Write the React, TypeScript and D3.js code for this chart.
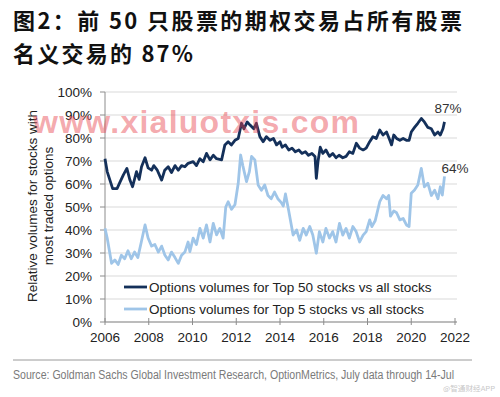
import React from "react";
import * as d3 from "d3";

// time axis (fractional years) and the two series
const top50Years = [
  2006.0, 2006.1, 2006.35, 2006.55, 2006.68, 2006.84, 2007.0, 2007.14, 2007.26, 2007.44,
  2007.56, 2007.67, 2007.83, 2007.97, 2008.13, 2008.23, 2008.39, 2008.59, 2008.73, 2008.89,
  2009.04, 2009.2, 2009.35, 2009.5, 2009.65, 2009.8, 2010.03, 2010.18, 2010.34, 2010.49,
  2010.64, 2010.8, 2010.95, 2011.1, 2011.33, 2011.48, 2011.63, 2011.78, 2011.94, 2012.09,
  2012.24, 2012.35, 2012.5, 2012.63, 2012.8, 2012.92, 2013.08, 2013.23, 2013.38, 2013.54,
  2013.7, 2013.84, 2014.0, 2014.1, 2014.25, 2014.4, 2014.55, 2014.7, 2014.86, 2015.0,
  2015.16, 2015.3, 2015.46, 2015.6, 2015.66, 2015.74, 2015.84, 2015.96, 2016.1, 2016.26,
  2016.41, 2016.56, 2016.7, 2016.87, 2017.02, 2017.17, 2017.33, 2017.49, 2017.64, 2017.8,
  2017.94, 2018.1, 2018.25, 2018.4, 2018.56, 2018.71, 2018.87, 2019.02, 2019.1, 2019.2,
  2019.33, 2019.48, 2019.63, 2019.78, 2019.9, 2020.0, 2020.15, 2020.3, 2020.46, 2020.6,
  2020.76, 2020.92, 2021.07, 2021.22, 2021.33, 2021.45, 2021.52,
];
const top50Values = [
  71, 65.4, 58, 58, 60.7, 64, 66.8, 61.7, 58.8, 65.4,
  62, 67.5, 71.4, 67, 66, 68, 66, 61.7, 66, 67.5,
  65, 68, 66, 68, 67.5, 69, 69.7, 68, 71, 69.7,
  73.3, 70.5, 72.5, 71, 70.5, 77, 78.4, 77, 79, 79.8,
  86.4, 84, 87, 85.6, 84, 86.4, 80.6, 78.4, 80.6, 79,
  79.8, 77, 78.4, 76, 77, 74.8, 75.6, 74, 74.8, 73.3,
  74, 72.5, 73.3, 72, 62.5, 70, 76, 73.3, 74.8, 72,
  73.3, 71.4, 72.5, 71.4, 72, 74, 73.3, 77.7, 75.6, 74.8,
  75.6, 78.4, 80.6, 79.8, 83.5, 81.3, 82.6, 79, 77, 81.3,
  79.8, 79, 79.8, 79, 79, 82.6, 84.6, 86.4, 88.5, 87,
  84.6, 84, 81.3, 82.6, 81.3, 84, 87,
];

const top5Years = [
  2006.0, 2006.1, 2006.3, 2006.45, 2006.6, 2006.75, 2006.9, 2007.05, 2007.2, 2007.35,
  2007.5, 2007.66, 2007.83, 2007.97, 2008.13, 2008.28, 2008.44, 2008.59, 2008.74, 2008.89,
  2009.04, 2009.2, 2009.35, 2009.5, 2009.65, 2009.8, 2009.88, 2010.03, 2010.18, 2010.34,
  2010.49, 2010.64, 2010.8, 2010.95, 2011.1, 2011.25, 2011.4, 2011.52, 2011.63, 2011.78,
  2011.94, 2012.09, 2012.2, 2012.3, 2012.47, 2012.6, 2012.7, 2012.85, 2013.0, 2013.15,
  2013.3, 2013.45, 2013.6, 2013.75, 2013.9, 2014.05, 2014.15, 2014.25, 2014.4, 2014.6,
  2014.76, 2014.9, 2015.06, 2015.2, 2015.36, 2015.5, 2015.66, 2015.8, 2015.96, 2016.1,
  2016.26, 2016.41, 2016.56, 2016.72, 2016.87, 2017.02, 2017.17, 2017.33, 2017.48, 2017.64,
  2017.8, 2017.94, 2018.1, 2018.2, 2018.35, 2018.56, 2018.71, 2018.87, 2018.97, 2019.05,
  2019.2, 2019.33, 2019.48, 2019.63, 2019.78, 2019.9, 2020.0, 2020.15, 2020.3, 2020.46,
  2020.6, 2020.76, 2020.92, 2021.07, 2021.22, 2021.33, 2021.42, 2021.52,
];
const top5Values = [
  40.7, 36.5, 25.5, 27, 25, 29, 27.5, 31, 27.5, 30.4,
  28, 34.8, 42.2, 36.5, 33, 33.7, 30.4, 33, 29, 27,
  30.4, 28, 25.5, 29, 30.4, 34.8, 30.6, 36.5, 33.7, 40.7,
  36.5, 42.2, 34.8, 42.9, 37.9, 40.7, 36.5, 50, 52.3, 49,
  51, 60.3, 72.6, 68, 61, 65.4, 72, 70.5, 59.6, 57.3,
  59.6, 55, 53.6, 56.5, 53.6, 52, 50.4, 55.7, 48.3, 37.8,
  40, 35.5, 40.7, 37.8, 41.5, 37.8, 29.9, 39.3, 34.8, 40.7,
  36.5, 39.3, 34.8, 42.9, 37.8, 40.7, 36.5, 41.5, 39.3, 34.8,
  37.8, 39.3, 44.4, 41.5, 44, 52.3, 55, 53.6, 55, 46,
  48.3, 47.5, 44.4, 45, 42.2, 41.5, 56, 57.4, 59.6, 66.8,
  58.8, 60.3, 55, 57.3, 53.6, 58.8, 55.2, 63.3,
];

const yTicks = [0, 10, 20, 30, 40, 50, 60, 70, 80, 90, 100];
const xTicks = [2006, 2008, 2010, 2012, 2014, 2016, 2018, 2020, 2022];
const seriesNames = [
  "Options volumes for Top 50 stocks vs all stocks",
  "Options volumes for Top 5 stocks vs all stocks",
];
const endLabels = ["87%", "64%"];

const W = 500, H = 397;
const font = "'Liberation Sans', Arial, sans-serif";
const darkBlue = "#14305a";
const lightBlue = "#9fc5e8";

export default function App() {
  const x = d3.scaleLinear().domain([2006, 2022]).range([105, 455]);
  const y = d3.scaleLinear().domain([0, 100]).range([322, 92]);

  const line = d3.line<[number, number]>()
    .x((d) => x(d[0]))
    .y((d) => y(d[1]));

  const top50 = d3.zip(top50Years, top50Values) as [number, number][];
  const top5 = d3.zip(top5Years, top5Values) as [number, number][];
  const last50 = top50[top50.length - 1];
  const last5 = top5[top5.length - 1];

  return (
    <svg width={W} height={H} style={{ position: "absolute", left: 0, top: 0, background: "#fff" }}>
      {/* title */}
      <g fontFamily="'Noto Sans CJK SC', sans-serif" fontWeight={700} fontSize={22} fill="#111">
        <text x={13} y={29} textLength={449} lengthAdjust="spacing">图2：前 50 只股票的期权交易占所有股票</text>
        <text x={13} y={62} textLength={180} lengthAdjust="spacing">名义交易的 87%</text>
      </g>

      {/* grid */}
      {yTicks.map((t) => (
        <line key={"g" + t} x1={x(2006)} x2={457} y1={y(t)} y2={y(t)} stroke="#d9d9d9" strokeWidth={1} />
      ))}

      {/* y axis */}
      <line x1={x(2006)} x2={x(2006)} y1={y(0)} y2={y(100)} stroke="#8c8c8c" />
      {yTicks.map((t) => (
        <g key={"y" + t}>
          <line x1={x(2006) - 5} x2={x(2006)} y1={y(t)} y2={y(t)} stroke="#8c8c8c" />
          <text x={92} y={y(t)} dy="0.35em" textAnchor="end" fontFamily={font} fontSize={13.5} fill="#222">
            {t + "%"}
          </text>
        </g>
      ))}

      {/* x axis */}
      <line x1={x(2006)} x2={457} y1={y(0)} y2={y(0)} stroke="#8c8c8c" />
      {xTicks.map((t) => (
        <g key={"x" + t}>
          <line x1={x(t)} x2={x(t)} y1={y(0) - 4} y2={y(0) + 3} stroke="#8c8c8c" />
          <text x={x(t)} y={342} textAnchor="middle" fontFamily={font} fontSize={13.5} fill="#222">
            {t}
          </text>
        </g>
      ))}

      {/* y axis title */}
      <g fontFamily={font} fontSize={13.5} fill="#222" textAnchor="middle">
        <text transform="translate(37,206) rotate(-90)">Relative volumes for stocks with</text>
        <text transform="translate(53,206) rotate(-90)">most traded options</text>
      </g>

      {/* series */}
      <path d={line(top5) ?? ""} fill="none" stroke={lightBlue} strokeWidth={2.8} strokeLinejoin="round" />
      <path d={line(top50) ?? ""} fill="none" stroke={darkBlue} strokeWidth={2.8} strokeLinejoin="round" />

      {/* end labels */}
      <g fontFamily={font} fontSize={13.5} fill="#333">
        <text x={x(last50[0]) - 10} y={113}>{endLabels[0]}</text>
        <text x={x(last5[0]) - 3} y={173}>{endLabels[1]}</text>
      </g>

      {/* legend */}
      {seriesNames.map((name, i) => (
        <g key={name} transform={`translate(124,${287 + i * 22})`}>
          <line x1={0} x2={23} y1={0} y2={0} stroke={i === 0 ? darkBlue : lightBlue} strokeWidth={2.8} />
          <text x={25} y={0} dy="0.35em" fontFamily={font} fontSize={13.5} fill="#222">{name}</text>
        </g>
      ))}

      {/* watermark */}
      <text x={33} y={133} fontFamily={font} fontWeight={700} fontSize={32} fill="rgb(232,64,74)" fillOpacity={0.45}
        textLength={326} lengthAdjust="spacing">www.xialuotxis.com</text>

      {/* source */}
      <line x1={13} x2={472} y1={360} y2={360} stroke="#9a9a9a" />
      <text x={13} y={379} fontFamily="'Liberation Sans Narrow', 'Liberation Sans', Arial, sans-serif" fontSize={12}
        fill="#7a7a7a" textLength={441} lengthAdjust="spacingAndGlyphs">
        Source: Goldman Sachs Global Investment Research, OptionMetrics, July data through 14-Jul
      </text>
      <text x={443} y={391} fontFamily="'Noto Sans CJK SC', sans-serif" fontSize={6.5} fill="#c8c8c8"
        textLength={52} lengthAdjust="spacingAndGlyphs">@智通财经APP</text>
    </svg>
  );
}
